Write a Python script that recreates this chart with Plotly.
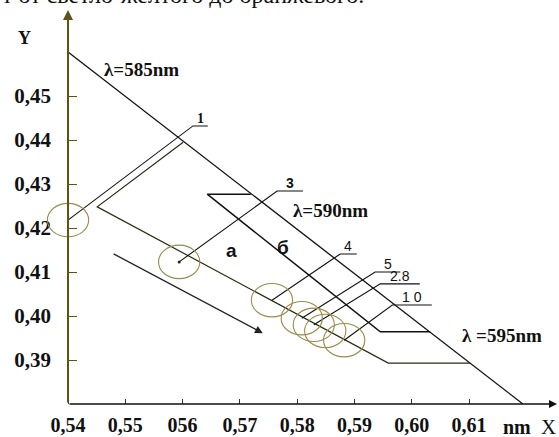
import plotly.graph_objects as go

# --- data (chromaticity coordinates) ---
x_ticks = [0.54, 0.55, 0.56, 0.57, 0.58, 0.59, 0.60, 0.61]
x_ticktext = ["0,54", "0,55", "056", "0,57", "0,58", "0,59", "0,60", "0,61"]
y_ticks = [0.39, 0.40, 0.41, 0.42, 0.43, 0.44, 0.45]
y_ticktext = ["0,39", "0,40", "0,41", "0,42", "0,43", "0,44", "0,45"]

# dominant-wavelength line
lam_x = [0.5400, 0.6194]
lam_y = [0.4600, 0.3800]

# outline of region "б"
b_x = [0.5719, 0.5643, 0.5945, 0.6032]
b_y = [0.4277, 0.4277, 0.3964, 0.3964]

# outline of region "а"
a_x = [0.5601, 0.5451, 0.5959, 0.6102]
a_y = [0.4395, 0.4248, 0.3893, 0.3893]

# direction arrow
arrow_x = [0.5477, 0.5740]
arrow_y = [0.4143, 0.3961]

# measured points (circle centres) and their labels
pt_label = ["1", "3", "4", "5", "2.8", "", "10"]
pt_x = [0.5400, 0.5594, 0.5756, 0.5808, 0.5829, 0.5849, 0.5882]
pt_y = [0.4218, 0.4123, 0.4036, 0.3995, 0.3980, 0.3966, 0.3945]
# leader line knee and label-line end
knee_x = [0.5618, 0.5765, 0.5875, 0.5936, 0.5945, None, 0.5966]
knee_y = [0.4432, 0.4284, 0.4141, 0.4100, 0.4073, None, 0.4025]
end_x = [0.5644, 0.5810, 0.5904, 0.5980, 0.6014, None, 0.6035]

# circle half-sizes
circ_rx = 0.0036
circ_ry = 0.0038

X_RANGE = [0.53511, 0.62535]
Y_RANGE = [0.3800, 0.46955]

fig = go.Figure()

line_col = "#111111"
fig.add_trace(go.Scatter(x=lam_x, y=lam_y, mode="lines",
                         line=dict(color=line_col, width=1.3), hoverinfo="skip"))
fig.add_trace(go.Scatter(x=b_x, y=b_y, mode="lines",
                         line=dict(color=line_col, width=1.5), hoverinfo="skip"))
fig.add_trace(go.Scatter(x=a_x, y=a_y, mode="lines",
                         line=dict(color="#2a2a10", width=1.2), hoverinfo="skip"))

shapes = []
for i in range(len(pt_x)):
    shapes.append(dict(type="circle", xref="x", yref="y",
                       x0=pt_x[i] - circ_rx, x1=pt_x[i] + circ_rx,
                       y0=pt_y[i] - circ_ry, y1=pt_y[i] + circ_ry,
                       line=dict(color="#9a8c4c", width=1.1)))
    if knee_x[i] is not None:
        fig.add_trace(go.Scatter(x=[pt_x[i], knee_x[i], end_x[i]],
                                 y=[pt_y[i], knee_y[i], knee_y[i]],
                                 mode="lines", line=dict(color=line_col, width=1.1),
                                 hoverinfo="skip"))

fig.add_trace(go.Scatter(x=pt_x[1:2], y=pt_y[1:2], mode="markers",
                         marker=dict(size=3, color="#222"), hoverinfo="skip"))

annotations = []
serif = "Liberation Serif"
sans = "Liberation Sans"

# labels of points
for i in range(len(pt_x)):
    if knee_x[i] is None:
        continue
    fam = serif if pt_label[i] == "1" else sans
    wt = "bold" if pt_label[i] in ("1", "3") else "normal"
    txt = pt_label[i] if pt_label[i] != "10" else "1 0"
    annotations.append(dict(x=(knee_x[i] + end_x[i]) / 2, y=knee_y[i], xref="x", yref="y",
                            text=txt, showarrow=False, yanchor="bottom", yshift=-2,
                            font=dict(family=fam, size=14, color="#111", weight=wt)))

# wavelength labels
lam_lbl = [("λ=585nm", 0.5529, 0.4561), ("λ=590nm", 0.5859, 0.4239), ("λ =595nm", 0.6158, 0.3955)]
for t, xx, yy in lam_lbl:
    annotations.append(dict(x=xx, y=yy, xref="x", yref="y", text=t, showarrow=False,
                            font=dict(family=serif, size=19, color="#111", weight="bold")))

# region labels
for t, xx, yy in [("а", 0.5686, 0.4150), ("б", 0.5775, 0.4155)]:
    annotations.append(dict(x=xx, y=yy, xref="x", yref="y", text=t, showarrow=False,
                            font=dict(family=sans, size=19, color="#111", weight="bold")))

# direction arrow
annotations.append(dict(x=arrow_x[1], y=arrow_y[1], ax=arrow_x[0], ay=arrow_y[0],
                        xref="x", yref="y", axref="x", ayref="y", text="",
                        showarrow=True, arrowhead=2, arrowsize=1.2, arrowwidth=1.3,
                        arrowcolor="#222"))

# axis lines with arrows
annotations.append(dict(x=lam_x[0], y=Y_RANGE[1], ax=lam_x[0], ay=Y_RANGE[0],
                        xref="x", yref="y", axref="x", ayref="y", text="",
                        showarrow=True, arrowhead=2, arrowsize=1, arrowwidth=2,
                        arrowcolor="#5e5214"))
annotations.append(dict(x=X_RANGE[1], y=Y_RANGE[0], ax=lam_x[0], ay=Y_RANGE[0],
                        xref="x", yref="y", axref="x", ayref="y", text="",
                        showarrow=True, arrowhead=2, arrowsize=1, arrowwidth=1.6,
                        arrowcolor="#111"))

# axis titles
annotations.append(dict(x=-16 / 517, y=366 / 394, xref="paper", yref="paper", text="Y",
                        xanchor="center", yanchor="middle", showarrow=False,
                        font=dict(family=serif, size=18, color="#111", weight="bold")))
annotations.append(dict(x=477 / 517, y=-23 / 394, xref="paper", yref="paper", text="nm",
                        xanchor="center", yanchor="middle", showarrow=False,
                        font=dict(family=serif, size=20, color="#111", weight="bold")))
annotations.append(dict(x=508 / 517, y=-23 / 394, xref="paper", yref="paper", text="X",
                        xanchor="center", yanchor="middle", showarrow=False,
                        font=dict(family=serif, size=21, color="#111")))

# cut-off caption line at top
annotations.append(dict(x=-40 / 517, y=1 + 15 / 394, xref="paper", yref="paper",
                        xanchor="left", yanchor="middle",
                        text="т от светло-желтого до оранжевого.", showarrow=False,
                        font=dict(family=serif, size=24, color="#111")))

fig.update_layout(
    template="none",
    width=559, height=437,
    margin=dict(l=40, r=2, t=10, b=33, autoexpand=False),
    paper_bgcolor="white", plot_bgcolor="white",
    showlegend=False,
    shapes=shapes,
    annotations=annotations,
    xaxis=dict(range=X_RANGE, tickvals=x_ticks, ticktext=x_ticktext, automargin=False,
               showgrid=False, zeroline=False, showline=False,
               ticks="inside", ticklen=5, tickcolor="#333", tickwidth=1.2,
               ticklabelstandoff=7,
               tickfont=dict(family=serif, size=20, color="#111", weight="bold")),
    yaxis=dict(range=Y_RANGE, tickvals=y_ticks, ticktext=y_ticktext, automargin=False,
               anchor="free", position=28 / 517,
               showgrid=False, zeroline=False, showline=False,
               ticks="inside", ticklen=8, tickcolor="#5e5214", tickwidth=1.2,
               ticklabelstandoff=17,
               tickfont=dict(family=serif, size=21, color="#111", weight="bold")),
)

fig.write_html("out.html", config={"displayModeBar": False},
               post_script="document.body.style.margin='0px';document.body.style.overflow='hidden';")
